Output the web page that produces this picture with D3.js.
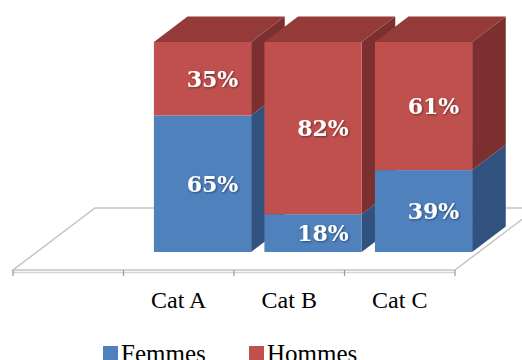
<!DOCTYPE html>
<html>
<head>
<meta charset="utf-8">
<script src="https://cdn.jsdelivr.net/npm/d3@7/dist/d3.min.js"></script>
<style>
  html, body { margin: 0; padding: 0; background: #fff; }
  svg { display: block; }
</style>
</head>
<body>
<svg id="chart" width="522" height="360"></svg>
<script>
// Share of women and men per category (percent)
const categories = ["Cat A", "Cat B", "Cat C"];
const femmes = [65, 18, 39];
const hommes = [35, 82, 61];
const seriesNames = ["Femmes", "Hommes"];

const W = 522, H = 360;
const svg = d3.select("#chart");

// Floor geometry: front edge and the depth vector of the oblique projection
const floorY = 270;
const depth = { dx: 82, dy: -62 };
const barOffset = 0.29;   // bars sit this far into the floor depth
const barDepth = 0.41;    // bar thickness along the depth axis

const colors = {
  Femmes: { front: "#4F81BD", side: "#31527E", top: "#3E6697" },
  Hommes: { front: "#C0504D", side: "#7B2F2E", top: "#943A38" }
};

// One empty leading slot on the category axis
const x = d3.scaleBand()
  .domain(["", ...categories])
  .range([13, 455]);

const ox = depth.dx * barOffset, oy = depth.dy * barOffset;
const bx = depth.dx * barDepth, by = depth.dy * barDepth;

const y = d3.scaleLinear()
  .domain([0, 100])
  .range([floorY + oy, 42]);

const rows = categories.map((c, i) => ({ cat: c, Femmes: femmes[i], Hommes: hommes[i] }));
const stacked = d3.stack().keys(seriesNames)(rows);

const defs = svg.append("defs");
const shadow = defs.append("filter").attr("id", "lblShadow")
  .attr("x", "-20%").attr("y", "-20%").attr("width", "140%").attr("height", "140%");
shadow.append("feDropShadow")
  .attr("dx", 1).attr("dy", 1).attr("stdDeviation", 0.8)
  .attr("flood-color", "#000").attr("flood-opacity", 0.45);

// ----- floor -----
const fl = svg.append("g").attr("class", "floor");
const x0 = x.range()[0], x1 = x.range()[1];
fl.append("polygon")
  .attr("points", [
    [x0, floorY], [x1, floorY],
    [x1 + depth.dx, floorY + depth.dy], [x0 + depth.dx, floorY + depth.dy]
  ].map(p => p.join(",")).join(" "))
  .attr("fill", "#fff")
  .attr("stroke", "#C4C4C4")
  .attr("stroke-width", 1.5);
// floor thickness along the front edge
fl.append("line")
  .attr("x1", x0).attr("x2", x1)
  .attr("y1", floorY + 2.5).attr("y2", floorY + 2.5)
  .attr("stroke", "#D4D4D4").attr("stroke-width", 1.5);

// category axis ticks at slot boundaries
const tickXs = x.domain().map(d => x(d)).concat([x1]);
fl.selectAll("line.tick").data(tickXs).join("line")
  .attr("class", "tick")
  .attr("x1", d => d).attr("x2", d => d)
  .attr("y1", floorY).attr("y2", floorY + 6)
  .attr("stroke", "#9A9A9A").attr("stroke-width", 1.2);

// category labels
svg.append("g").selectAll("text").data(categories).join("text")
  .attr("x", d => x(d) + x.bandwidth() / 2)
  .attr("y", 307.5)
  .attr("text-anchor", "middle")
  .attr("font-family", "Liberation Serif, serif")
  .attr("font-size", 24)
  .attr("fill", "#000")
  .text(d => d);

// ----- bars -----
const barW = x.bandwidth() * 0.88;
const pts = a => a.map(p => p.join(",")).join(" ");
const barsG = svg.append("g").attr("class", "bars");

categories.forEach((cat, i) => {
  const g = barsG.append("g");
  const left = x(cat) + (x.bandwidth() - barW) / 2 + ox;
  const right = left + barW;
  const segs = stacked.map(s => ({ key: s.key, y0: s[i][0], y1: s[i][1] }));

  // side faces
  segs.forEach(s => {
    const yb = y(s.y0), yt = y(s.y1);
    g.append("polygon")
      .attr("points", pts([[right, yb], [right + bx, yb + by], [right + bx, yt + by], [right, yt]]))
      .attr("fill", colors[s.key].side);
  });
  // front faces
  segs.forEach(s => {
    const yb = y(s.y0), yt = y(s.y1);
    g.append("rect")
      .attr("x", left).attr("y", yt)
      .attr("width", barW).attr("height", yb - yt)
      .attr("fill", colors[s.key].front);
  });
  // top face of the upper segment
  const topSeg = segs[segs.length - 1];
  const yt = y(topSeg.y1);
  g.append("polygon")
    .attr("points", pts([[left, yt], [right, yt], [right + bx, yt + by], [left + bx, yt + by]]))
    .attr("fill", colors[topSeg.key].top);
});

// ----- value labels -----
const labels = [];
categories.forEach((cat, i) => {
  const left = x(cat) + (x.bandwidth() - barW) / 2 + ox;
  stacked.forEach(s => {
    const v = s[i][1] - s[i][0];
    labels.push({ x: left + barW / 2 + 10, y: (y(s[i][0]) + y(s[i][1])) / 2, v });
  });
});
svg.append("g").selectAll("text").data(labels).join("text")
  .attr("x", d => d.x)
  .attr("y", d => d.y)
  .attr("dy", "0.36em")
  .attr("text-anchor", "middle")
  .attr("font-family", "DejaVu Serif, serif")
  .attr("font-weight", "bold")
  .attr("font-size", 22)
  .attr("fill", "#fff")
  .attr("filter", "url(#lblShadow)")
  .text(d => d.v + "%");

// ----- legend -----
const legend = svg.append("g").attr("class", "legend");
const legendX = [103, 249];
seriesNames.forEach((name, i) => {
  const lg = legend.append("g").attr("transform", `translate(${legendX[i]},0)`);
  lg.append("rect")
    .attr("x", 0).attr("y", 346)
    .attr("width", 15).attr("height", 15)
    .attr("fill", colors[name].front);
  lg.append("text")
    .attr("x", 18).attr("y", 362)
    .attr("font-family", "Liberation Serif, serif")
    .attr("font-size", 25)
    .attr("fill", "#000")
    .text(name);
});
</script>
</body>
</html>
